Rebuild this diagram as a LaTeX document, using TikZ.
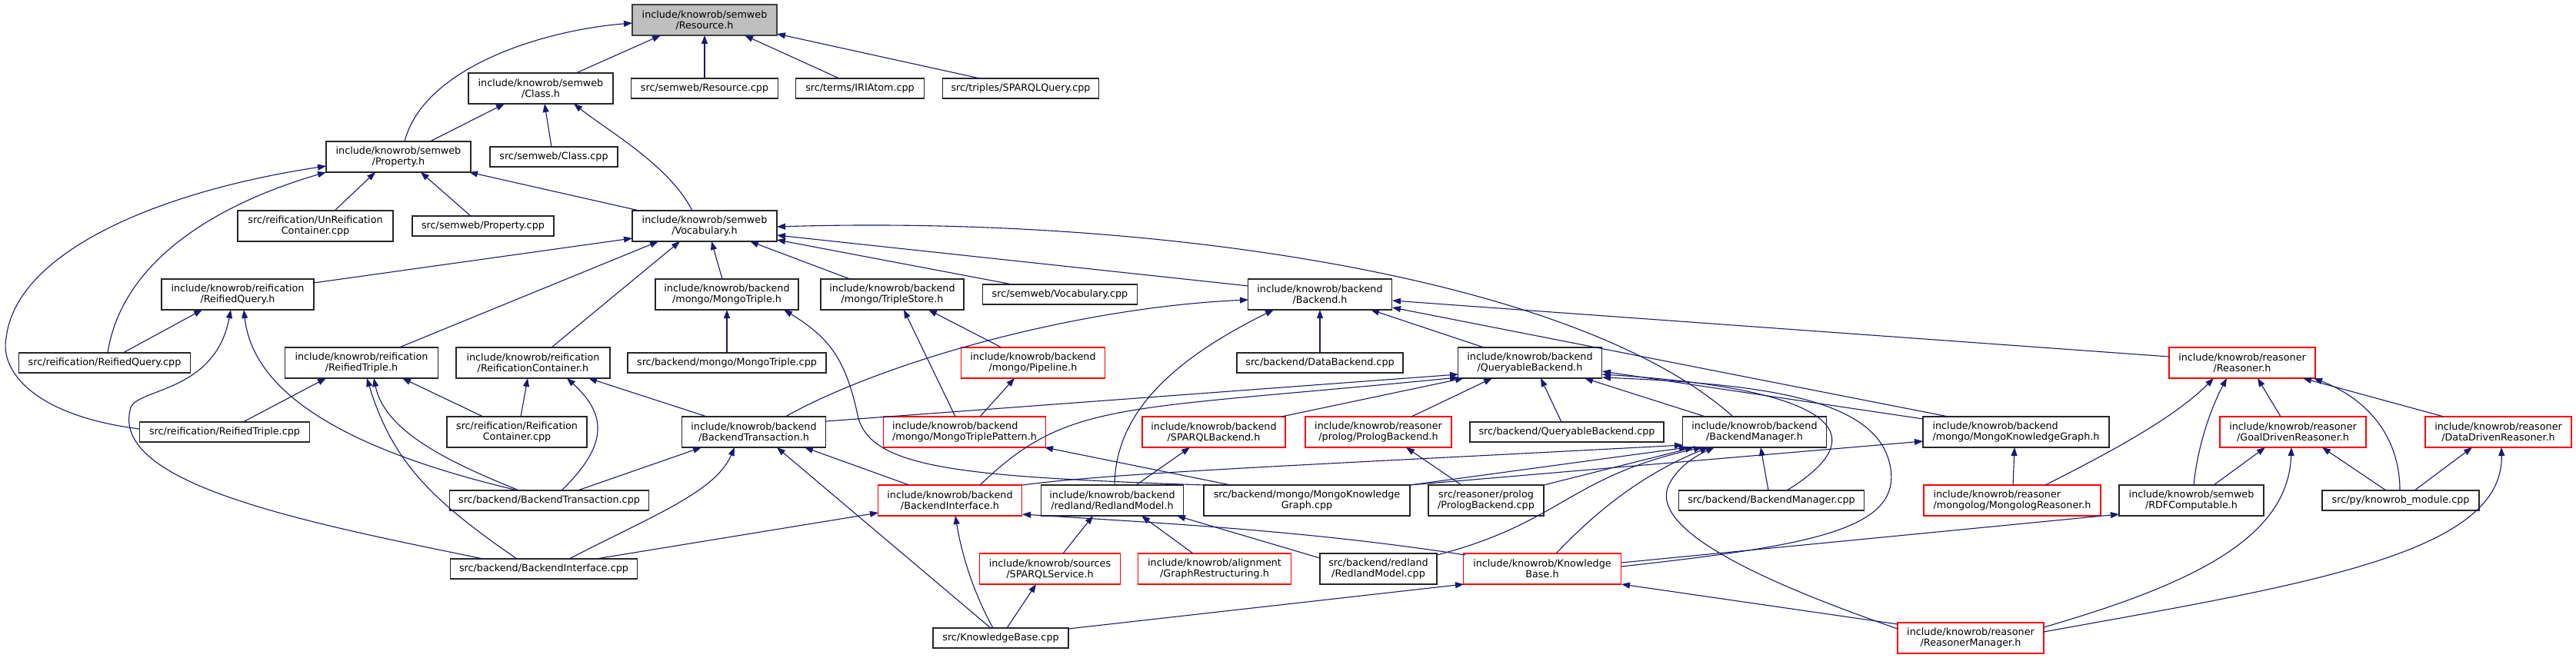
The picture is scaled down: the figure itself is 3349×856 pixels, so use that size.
\documentclass[tikz,border=0pt]{standalone}
\usepackage{fontspec}
\setmainfont{DejaVu Sans}
\usetikzlibrary{arrows.meta}
\definecolor{edgeblue}{HTML}{191970}
\definecolor{rootfill}{HTML}{BFBFBF}
\tikzset{
  nd/.style={draw=black!85, line width=1.1pt, fill=white, rectangle, inner sep=0pt, align=center,
    font=\fontsize{12.75}{14}\selectfont},
  rd/.style={nd, draw=red},
  rootnd/.style={nd, fill=rootfill, draw=black!75},
  sz/.style 2 args={minimum width=#1pt, minimum height=#2pt},
  e/.style={draw=edgeblue, line width=1.1pt, -{Triangle[length=11pt,width=8pt]}},
}
\begin{document}
\begin{tikzpicture}[x=1pt,y=-1pt]
\fill[white] (0,0) rectangle (3349,856);
\useasboundingbox (0,0) rectangle (3349,856);
% nodes
\node[rootnd, sz={188}{40}] (res) at (916,26) {include/knowrob/semweb\\/Resource.h};
\node[nd, sz={188}{40}] (cls) at (703,115) {include/knowrob/semweb\\/Class.h};
\node[nd, sz={191}{26}] (rescpp) at (916,115) {src/semweb/Resource.cpp};
\node[nd, sz={167}{26}] (iri) at (1118,115) {src/terms/IRIAtom.cpp};
\node[nd, sz={203}{26}] (sparqlq) at (1327,115) {src/triples/SPARQLQuery.cpp};
\node[nd, sz={188}{40}] (prop) at (518,204) {include/knowrob/semweb\\/Property.h};
\node[nd, sz={166}{26}] (clscpp) at (720,204) {src/semweb/Class.cpp};
\node[nd, sz={202}{40}] (unreif) at (410,294) {src/reification/UnReification\\Container.cpp};
\node[nd, sz={184}{26}] (propcpp) at (628,294) {src/semweb/Property.cpp};
\node[nd, sz={188}{40}] (voc) at (916,294) {include/knowrob/semweb\\/Vocabulary.h};
\node[nd, sz={198}{40}] (rq) at (309,383) {include/knowrob/reification\\/ReifiedQuery.h};
\node[nd, sz={186}{40}] (mt) at (945,383) {include/knowrob/backend\\/mongo/MongoTriple.h};
\node[nd, sz={186}{40}] (ts) at (1160,383) {include/knowrob/backend\\/mongo/TripleStore.h};
\node[nd, sz={201}{26}] (voccpp) at (1378,383) {src/semweb/Vocabulary.cpp};
\node[nd, sz={187}{40}] (be) at (1716,383) {include/knowrob/backend\\/Backend.h};
\node[nd, sz={223}{26}] (rqcpp) at (136,472) {src/reification/ReifiedQuery.cpp};
\node[nd, sz={199}{40}] (rt) at (470,472) {include/knowrob/reification\\/ReifiedTriple.h};
\node[nd, sz={200}{40}] (rc) at (693,472) {include/knowrob/reification\\/ReificationContainer.h};
\node[nd, sz={258}{26}] (mtcpp) at (945,472) {src/backend/mongo/MongoTriple.cpp};
\node[rd, sz={187}{40}] (pipe) at (1343,472) {include/knowrob/backend\\/mongo/Pipeline.h};
\node[nd, sz={216}{26}] (dbcpp) at (1716,472) {src/backend/DataBackend.cpp};
\node[nd, sz={187}{40}] (qb) at (1989,472) {include/knowrob/backend\\/QueryableBackend.h};
\node[rd, sz={190}{40}] (reas) at (2915,472) {include/knowrob/reasoner\\/Reasoner.h};
\node[nd, sz={221}{26}] (rtcpp) at (292,562) {src/reification/ReifiedTriple.cpp};
\node[nd, sz={182}{40}] (rccpp) at (672,562) {src/reification/Reification\\Container.cpp};
\node[nd, sz={187}{40}] (bt) at (980,562) {include/knowrob/backend\\/BackendTransaction.h};
\node[rd, sz={211}{40}, align=left] (mtp) at (1254,562) {include/knowrob/backend\\/mongo/MongoTriplePattern.h};
\node[rd, sz={186}{40}] (spb) at (1578,562) {include/knowrob/backend\\/SPARQLBackend.h};
\node[rd, sz={190}{40}] (plb) at (1792,562) {include/knowrob/reasoner\\/prolog/PrologBackend.h};
\node[nd, sz={252}{26}] (qbcpp) at (2037,562) {src/backend/QueryableBackend.cpp};
\node[nd, sz={187}{40}] (bm) at (2281,562) {include/knowrob/backend\\/BackendManager.h};
\node[nd, sz={242}{40}, align=left] (mkg) at (2621,562) {include/knowrob/backend\\/mongo/MongoKnowledgeGraph.h};
\node[rd, sz={190}{40}] (gdr) at (2981,562) {include/knowrob/reasoner\\/GoalDrivenReasoner.h};
\node[rd, sz={190}{40}] (ddr) at (3248,562) {include/knowrob/reasoner\\/DataDrivenReasoner.h};
\node[nd, sz={259}{26}] (btcpp) at (714,651) {src/backend/BackendTransaction.cpp};
\node[rd, sz={187}{40}] (bi) at (1235,651) {include/knowrob/backend\\/BackendInterface.h};
\node[nd, sz={185}{40}] (rm) at (1446,651) {include/knowrob/backend\\/redland/RedlandModel.h};
\node[nd, sz={268}{40}] (mkgcpp) at (1699,651) {src/backend/mongo/MongoKnowledge\\Graph.cpp};
\node[nd, sz={150}{40}] (plbcpp) at (1932,651) {src/reasoner/prolog\\/PrologBackend.cpp};
\node[nd, sz={241}{26}] (bmcpp) at (2303,651) {src/backend/BackendManager.cpp};
\node[rd, sz={230}{40}, align=left] (mlr) at (2616,651) {include/knowrob/reasoner\\/mongolog/MongologReasoner.h};
\node[nd, sz={188}{40}] (rdfc) at (2849,651) {include/knowrob/semweb\\/RDFComputable.h};
\node[nd, sz={204}{26}] (kbmod) at (3121,651) {src/py/knowrob\_module.cpp};
\node[nd, sz={243}{26}] (bicpp) at (707,740) {src/backend/BackendInterface.cpp};
\node[rd, sz={183}{40}] (spsvc) at (1365,740) {include/knowrob/sources\\/SPARQLService.h};
\node[rd, sz={199}{40}] (graph) at (1579,740) {include/knowrob/alignment\\/GraphRestructuring.h};
\node[nd, sz={152}{40}] (rmcpp) at (1792,740) {src/backend/redland\\/RedlandModel.cpp};
\node[rd, sz={205}{40}] (kb) at (2005,740) {include/knowrob/Knowledge\\Base.h};
\node[nd, sz={176}{26}] (kbcpp) at (1301,830) {src/KnowledgeBase.cpp};
\node[rd, sz={190}{40}] (rmgr) at (2562,830) {include/knowrob/reasoner\\/ReasonerManager.h};
% edges
\draw[e] ([shift={(46,-20)}]cls.center) -- ([shift={(-57,20)}]res.center);
\draw[e] ([shift={(0,-13)}]rescpp.center) -- ([shift={(0,20)}]res.center);
\draw[e] ([shift={(-27,-13)}]iri.center) -- ([shift={(52,20)}]res.center);
\draw[e] ([shift={(-53,-13)}]sparqlq.center) -- ([shift={(94,18)}]res.center);
\draw[e] ([shift={(8,-20)}]prop.center) .. controls (550,90) and (700,40) .. ([shift={(-94,4)}]res.center);
\draw[e] ([shift={(41,-20)}]prop.center) -- ([shift={(-47,20)}]cls.center);
\draw[e] ([shift={(-3,-13)}]clscpp.center) -- ([shift={(5,20)}]cls.center);
\draw[e] ([shift={(-16,-20)}]voc.center) .. controls (870,215) and (790,170) .. ([shift={(43,20)}]cls.center);
\draw[e] ([shift={(25,-20)}]unreif.center) -- ([shift={(-30,20)}]prop.center);
\draw[e] ([shift={(-16,-13)}]propcpp.center) -- ([shift={(29,20)}]prop.center);
\draw[e] ([shift={(-85,-20)}]voc.center) -- ([shift={(92,20)}]prop.center);
\draw[e] ([shift={(4,-13)}]rqcpp.center) .. controls (160,330) and (300,260) .. ([shift={(-94,20)}]prop.center);
\draw[e] ([shift={(-111,-4)}]rtcpp.center) .. controls (40,540) and (0,480) .. (8,440) .. controls (20,330) and (200,250) .. ([shift={(-94,12)}]prop.center);
\draw[e] ([shift={(99,-15)}]rq.center) -- ([shift={(-94,16)}]voc.center);
\draw[e] ([shift={(49,-20)}]rt.center) -- ([shift={(-60,20)}]voc.center);
\draw[e] ([shift={(24,-20)}]rc.center) -- ([shift={(-32,20)}]voc.center);
\draw[e] ([shift={(-6,-20)}]mt.center) -- ([shift={(9,20)}]voc.center);
\draw[e] ([shift={(-55,-20)}]ts.center) -- ([shift={(59,20)}]voc.center);
\draw[e] ([shift={(-62,-13)}]voccpp.center) -- ([shift={(94,18)}]voc.center);
\draw[e] ([shift={(-93,-11)}]be.center) -- ([shift={(94,12)}]voc.center);
\draw[e] ([shift={(-28,-20)}]bm.center) .. controls (2050,360) and (1500,280) .. ([shift={(94,1)}]voc.center);
\draw[e] ([shift={(0,-13)}]mtcpp.center) -- ([shift={(0,20)}]mt.center);
\draw[e] ([shift={(-134,-20)}]mkgcpp.center) .. controls (1250,620) and (1130,610) .. (1115,540) .. controls (1100,470) and (1080,440) .. ([shift={(74,20)}]mt.center);
\draw[e] ([shift={(-12,-20)}]mtp.center) -- ([shift={(15,20)}]ts.center);
\draw[e] ([shift={(-41,-20)}]pipe.center) -- ([shift={(47,20)}]ts.center);
\draw[e] ([shift={(41,-20)}]bt.center) .. controls (1150,470) and (1400,400) .. ([shift={(-93,7)}]be.center);
\draw[e] ([shift={(3,-20)}]rm.center) .. controls (1450,540) and (1520,470) .. ([shift={(-60,20)}]be.center);
\draw[e] ([shift={(0,-13)}]dbcpp.center) -- ([shift={(0,20)}]be.center);
\draw[e] ([shift={(-60,-20)}]qb.center) -- ([shift={(66,20)}]be.center);
\draw[e] ([shift={(-88,-20)}]mkg.center) -- ([shift={(94,17)}]be.center);
\draw[e] ([shift={(-95,-8)}]reas.center) -- ([shift={(94,8)}]be.center);
\draw[e] ([shift={(20,-20)}]mtp.center) -- ([shift={(-24,20)}]pipe.center);
\draw[e] ([shift={(-99,-20)}]mkgcpp.center) -- ([shift={(104,20)}]mtp.center);
\draw[e] ([shift={(94,-14)}]bt.center) -- ([shift={(-93,15)}]qb.center);
\draw[e] ([shift={(39,-20)}]bi.center) .. controls (1390,520) and (1450,535) .. ([shift={(-93,19)}]qb.center);
\draw[e] ([shift={(88,-20)}]spb.center) -- ([shift={(-86,20)}]qb.center);
\draw[e] ([shift={(43,-20)}]plb.center) -- ([shift={(-49,20)}]qb.center);
\draw[e] ([shift={(-7,-13)}]qbcpp.center) -- ([shift={(14,20)}]qb.center);
\draw[e] ([shift={(-64,-20)}]bm.center) -- ([shift={(71,20)}]qb.center);
\draw[e] ([shift={(20,-13)}]bmcpp.center) .. controls (2450,560) and (2370,505) .. ([shift={(94,15)}]qb.center);
\draw[e] ([shift={(-121,-17)}]mkg.center) -- ([shift={(94,11)}]qb.center);
\draw[e] ([shift={(103,-3)}]kb.center) .. controls (2350,710) and (2470,690) .. (2458,610) .. controls (2445,520) and (2300,500) .. ([shift={(94,19)}]qb.center);
\draw[e] ([shift={(-16,-20)}]gdr.center) -- ([shift={(20,20)}]reas.center);
\draw[e] ([shift={(-71,-20)}]ddr.center) -- ([shift={(79,20)}]reas.center);
\draw[e] ([shift={(43,-20)}]mlr.center) .. controls (2760,580) and (2830,540) .. ([shift={(-37,20)}]reas.center);
\draw[e] ([shift={(3,-20)}]rdfc.center) .. controls (2858,570) and (2880,520) .. ([shift={(-20,20)}]reas.center);
\draw[e] ([shift={(-1,-13)}]kbmod.center) .. controls (3120,570) and (3080,520) .. ([shift={(93,20)}]reas.center);
\draw[e] ([shift={(29,-20)}]rdfc.center) -- ([shift={(-36,20)}]gdr.center);
\draw[e] ([shift={(-19,-13)}]kbmod.center) -- ([shift={(38,20)}]gdr.center);
\draw[e] ([shift={(95,-14)}]rmgr.center) .. controls (2850,760) and (2975,700) .. ([shift={(-2,20)}]gdr.center);
\draw[e] ([shift={(18,-13)}]kbmod.center) -- ([shift={(-34,20)}]ddr.center);
\draw[e] ([shift={(95,-8)}]rmgr.center) .. controls (3000,760) and (3255,720) .. ([shift={(4,20)}]ddr.center);
\draw[e] ([shift={(1,-20)}]mlr.center) -- ([shift={(-2,20)}]mkg.center);
\draw[e] ([shift={(134,-20)}]mkgcpp.center) -- ([shift={(-121,12)}]mkg.center);
\draw[e] ([shift={(94,-20)}]bi.center) .. controls (1450,615) and (1700,605) .. ([shift={(-93,17)}]bm.center);
\draw[e] ([shift={(134,-20)}]mkgcpp.center) -- ([shift={(-87,20)}]bm.center);
\draw[e] ([shift={(75,-20)}]plbcpp.center) -- ([shift={(-79,20)}]bm.center);
\draw[e] ([shift={(76,-18)}]rmcpp.center) .. controls (2030,680) and (2040,620) .. ([shift={(-68,20)}]bm.center);
\draw[e] ([shift={(18,-20)}]kb.center) .. controls (2080,660) and (2140,615) .. ([shift={(-60,20)}]bm.center);
\draw[e] ([shift={(-95,-12)}]rmgr.center) .. controls (2300,760) and (2140,690) .. (2170,630) .. controls (2180,610) and (2200,595) .. ([shift={(-52,20)}]bm.center);
\draw[e] ([shift={(-4,-13)}]bmcpp.center) -- ([shift={(8,20)}]bm.center);
\draw[e] ([shift={(-95,-18)}]rmgr.center) -- ([shift={(103,20)}]kb.center);
\draw[e] ([shift={(88,-12)}]kbcpp.center) -- ([shift={(-102,20)}]kb.center);
\draw[e] ([shift={(103,-8)}]kb.center) -- ([shift={(-94,18)}]rdfc.center);
\draw[e] ([shift={(-10,-13)}]kbcpp.center) .. controls (1265,770) and (1250,720) .. ([shift={(7,20)}]bi.center);
\draw[e] ([shift={(68,-13)}]bicpp.center) -- ([shift={(-93,16)}]bi.center);
\draw[e] ([shift={(-100,-18)}]kb.center) .. controls (1700,690) and (1500,680) .. ([shift={(94,18)}]bi.center);
\draw[e] ([shift={(37,-13)}]btcpp.center) -- ([shift={(-68,20)}]bt.center);
\draw[e] ([shift={(33,-13)}]bicpp.center) .. controls (850,670) and (930,640) .. ([shift={(-25,20)}]bt.center);
\draw[e] ([shift={(-13,-13)}]kbcpp.center) -- ([shift={(30,20)}]bt.center);
\draw[e] ([shift={(-53,-20)}]bi.center) -- ([shift={(66,20)}]bt.center);
\draw[e] ([shift={(5,-20)}]rccpp.center) -- ([shift={(-7,20)}]rc.center);
\draw[e] ([shift={(16,-13)}]btcpp.center) .. controls (790,580) and (790,540) .. ([shift={(44,20)}]rc.center);
\draw[e] ([shift={(-61,-20)}]bt.center) -- ([shift={(72,20)}]rc.center);
\draw[e] ([shift={(24,-13)}]rtcpp.center) -- ([shift={(-46,20)}]rt.center);
\draw[e] ([shift={(-44,-20)}]rccpp.center) -- ([shift={(53,20)}]rt.center);
\draw[e] ([shift={(-39,-13)}]btcpp.center) .. controls (580,600) and (500,560) .. ([shift={(16,20)}]rt.center);
\draw[e] ([shift={(-35,-13)}]bicpp.center) .. controls (560,650) and (510,600) .. ([shift={(7,20)}]rt.center);
\draw[e] ([shift={(24,-13)}]rqcpp.center) -- ([shift={(-46,20)}]rq.center);
\draw[e] ([shift={(-79,-13)}]bicpp.center) .. controls (400,680) and (140,630) .. (170,530) .. controls (180,505) and (280,510) .. ([shift={(-9,20)}]rq.center);
\draw[e] ([shift={(-41,-13)}]btcpp.center) .. controls (470,590) and (330,520) .. ([shift={(8,20)}]rq.center);
\draw[e] ([shift={(17,-20)}]spsvc.center) -- ([shift={(-25,20)}]rm.center);
\draw[e] ([shift={(-28,-20)}]graph.center) -- ([shift={(38,20)}]rm.center);
\draw[e] ([shift={(-76,-14)}]rmcpp.center) -- ([shift={(84,20)}]rm.center);
\draw[e] ([shift={(31,-20)}]rm.center) -- ([shift={(-31,20)}]spb.center);
\draw[e] ([shift={(8,-13)}]kbcpp.center) -- ([shift={(-18,20)}]spsvc.center);
\draw[e] ([shift={(-32,-20)}]plbcpp.center) -- ([shift={(36,20)}]plb.center);
\end{tikzpicture}
\end{document}
